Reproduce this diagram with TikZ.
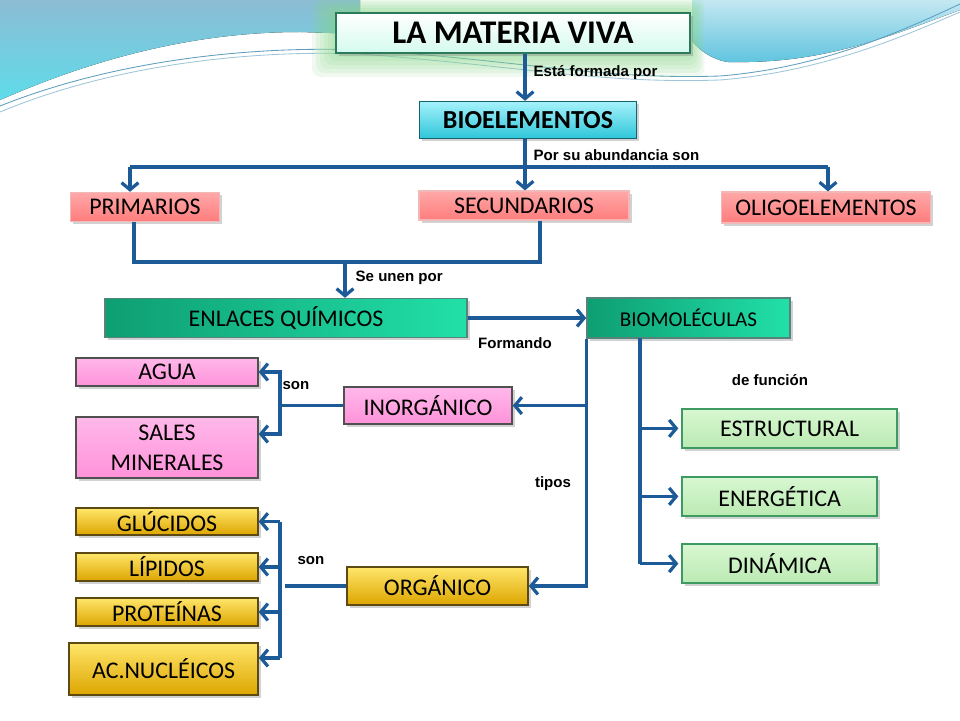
\documentclass[tikz,border=0pt]{standalone}
\usepackage{fontspec}
\setmainfont{Carlito}
\newfontfamily\labelfont{Liberation Sans}
\usetikzlibrary{arrows.meta,shadows}

\definecolor{linkblue}{HTML}{1C5A98}
\definecolor{skytop}{HTML}{8CBCD4}
\definecolor{skybot}{HTML}{5EDCEA}
\definecolor{skyrtop}{HTML}{C4E8F2}
\definecolor{skyrbot}{HTML}{5DC3DE}
\definecolor{swirl}{HTML}{5E9EBE}
\definecolor{glow}{HTML}{86D886}
\definecolor{titleedge}{HTML}{2C7A5C}
\definecolor{titlefill}{HTML}{D4FAEE}
\definecolor{cyanedge}{HTML}{17606E}
\definecolor{cyantop}{HTML}{A4F2FA}
\definecolor{cyanbot}{HTML}{2FC6DA}
\definecolor{redtop}{HTML}{FFA8A8}
\definecolor{redbot}{HTML}{FF7C7C}
\definecolor{rededge}{HTML}{F2B8B8}
\definecolor{tealleft}{HTML}{0E9E72}
\definecolor{tealright}{HTML}{22E0A8}
\definecolor{tealedge}{HTML}{55857A}
\definecolor{pinktop}{HTML}{FFB8EA}
\definecolor{pinkbot}{HTML}{FF92DA}
\definecolor{pinkedge}{HTML}{505050}
\definecolor{goldtop}{HTML}{FFE66A}
\definecolor{goldbot}{HTML}{DDA500}
\definecolor{goldedge}{HTML}{5C4A12}
\definecolor{greentop}{HTML}{D8F7D1}
\definecolor{greenbot}{HTML}{BBEAB3}
\definecolor{greenedge}{HTML}{3C9A62}

\tikzset{
  box/.style={inner sep=0pt, font=\fontsize{17}{19}\selectfont,
    drop shadow={shadow xshift=2pt, shadow yshift=-2pt, opacity=0.35}},
  titlebox/.style={box, draw=titleedge, line width=1.4pt, top color=white,
    bottom color=titlefill, font=\bfseries\fontsize{23.5}{25}\selectfont},
  cyanbox/.style={box, draw=cyanedge, line width=1pt, top color=cyantop,
    bottom color=cyanbot, font=\bfseries\fontsize{18.5}{20}\selectfont},
  redbox/.style={box, draw=rededge, line width=1pt, top color=redtop, bottom color=redbot},
  tealbox/.style={box, draw=tealedge, line width=1pt, left color=tealleft, right color=tealright},
  pinkbox/.style={box, draw=pinkedge, line width=1pt, top color=pinktop, bottom color=pinkbot},
  goldbox/.style={box, draw=goldedge, line width=1pt, top color=goldtop, bottom color=goldbot},
  greenbox/.style={box, draw=greenedge, line width=1.4pt, top color=greentop, bottom color=greenbot},
  link/.style={linkblue, line width=2.3pt},
  arr/.style={link, -{Straight Barb[length=5pt, width=12pt]}},
  lbl/.style={font=\labelfont\bfseries\fontsize{10.7}{12}\selectfont, inner sep=1pt},
}

\begin{document}
\begin{tikzpicture}
  \useasboundingbox (0,0) rectangle (24,18);
  \fill [white] (0,0) rectangle (24,18);

  \fill [top color=skytop, bottom color=skybot] (0,18) -- (9,18) -- (9,17.15) -- (7.5,17.2)
    .. controls (5,17.2) and (2.5,16.6) .. (0,15.5) -- cycle;
  \fill [top color=skyrtop, bottom color=skyrbot] (17.3,18) -- (24,18) -- (24,17.75)
    .. controls (22,17.0) and (20.5,16.4) .. (18.2,16.45)
    .. controls (17.8,16.5) and (17.4,16.8) .. (17.3,17.0) -- cycle;
  \draw [swirl, line width=0.6pt] (0,15.35) .. controls (3,16.55) and (6.5,16.85) .. (9,16.75)
    .. controls (13,16.5) and (15,16.0) .. (18,16.1) .. controls (20.5,16.3) and (22.5,17.2) .. (24,17.9);
  \draw [swirl!60, line width=0.6pt] (0,15.2) .. controls (3,16.45) and (6.5,16.75) .. (9,16.65)
    .. controls (13,16.35) and (15,15.9) .. (18,16.0) .. controls (20.5,16.2) and (22.5,17.05) .. (24,17.7);
  \foreach \g in {0.1,0.2,...,0.6}
    \fill [glow, opacity=0.13, rounded corners=6pt] (8.4-\g,16.675-\g) rectangle (17.25+\g*0.6,17.675+\g*0.6);

  \node [titlebox, minimum width=8.85cm, minimum height=1cm] (title) at (12.825,17.175) {LA MATERIA VIVA};
  \node [cyanbox, minimum width=5.425cm, minimum height=0.925cm] (bio) at (13.2,15.0) {BIOELEMENTOS};

  \node [redbox, minimum width=3.725cm, minimum height=0.725cm] (prim) at (3.625,12.825) {PRIMARIOS};
  \node [redbox, minimum width=5.25cm, minimum height=0.725cm] (secu) at (13.1,12.86) {SECUNDARIOS};
  \node [redbox, minimum width=5.225cm, minimum height=0.775cm] (oligo) at (20.65,12.81) {OLIGOELEMENTOS};

  \node [tealbox, minimum width=9.05cm, minimum height=0.975cm] (enlaces) at (7.15,10.05) {ENLACES QUÍMICOS};
  \node [tealbox, minimum width=5.075cm, minimum height=1cm, font=\fontsize{15}{17}\selectfont] (biomol) at (17.21,10.05) {BIOMOLÉCULAS};

  \node [pinkbox, minimum width=4.55cm, minimum height=0.7cm] (agua) at (4.175,8.7) {AGUA};
  \node [pinkbox, minimum width=4.55cm, minimum height=1.525cm, align=center,
    font=\fontsize{17}{21}\selectfont] (sales) at (4.175,6.81) {SALES\\MINERALES};
  \node [pinkbox, minimum width=4.2cm, minimum height=0.925cm] (inorg) at (10.7,7.86) {INORGÁNICO};

  \node [greenbox, minimum width=5.375cm, minimum height=0.975cm] (estr) at (19.74,7.29) {ESTRUCTURAL};
  \node [greenbox, minimum width=4.875cm, minimum height=0.975cm] (energ) at (19.49,5.59) {ENERGÉTICA};
  \node [greenbox, minimum width=4.875cm, minimum height=0.975cm] (dinam) at (19.49,3.91) {DINÁMICA};

  \node [goldbox, minimum width=4.55cm, minimum height=0.675cm] (glu) at (4.175,4.96) {GLÚCIDOS};
  \node [goldbox, minimum width=4.55cm, minimum height=0.7cm] (lip) at (4.175,3.825) {LÍPIDOS};
  \node [goldbox, minimum width=4.55cm, minimum height=0.7cm] (prot) at (4.175,2.7) {PROTEÍNAS};
  \node [goldbox, minimum width=4.725cm, minimum height=1.3cm] (acn) at (4.09,1.275) {AC.NUCLÉICOS};
  \node [goldbox, minimum width=4.525cm, minimum height=0.95cm] (org) at (10.94,3.35) {ORGÁNICO};

  \coordinate (split) at (13.125,13.825);
  \coordinate (pl) at (3.25,13.825);
  \coordinate (ol) at (20.7,13.825);
  \coordinate (pj) at (3.35,11.45);
  \coordinate (sj) at (13.5,11.45);
  \coordinate (jn) at (8.625,11.45);
  \coordinate (fn) at (16,9.55);
  \coordinate (ib) at (7.0,7.86);
  \coordinate (salesin) at ([yshift=0.34cm]sales.east);
  \coordinate (ov) at (7.0,3.35);
  \coordinate (acnin) at ([yshift=0.275cm]acn.east);

  \draw [arr] (title.south -| split) -- (split |- bio.north);
  \draw [link] (split |- bio.south) -- (split);
  \draw [link] (pl) -- (ol);
  \draw [arr] (pl) -- (pl |- prim.north);
  \draw [arr] (split) -- (split |- secu.north);
  \draw [arr] (ol) -- (ol |- oligo.north);

  \draw [link] (pj |- prim.south) -- (pj) -- (sj) -- (sj |- secu.south);
  \draw [arr] (jn) -- (jn |- enlaces.north);
  \draw [arr] (enlaces.east) -- (biomol.west);

  \draw [arr] (biomol.south west) |- (org.east);
  \draw [arr] (biomol.south west |- inorg.east) -- (inorg.east);

  \draw [link] (fn) -- (fn |- dinam.west);
  \foreach \n in {estr,energ,dinam}
    \draw [arr, shorten >=2pt] (fn |- \n.west) -- (\n.west);

  \draw [link] (inorg.west) -- (ib);
  \draw [arr] (ib) |- (agua.east);
  \draw [arr] (ib) |- (salesin);

  \draw [link] (org.west) -- ++(-1.525,0);
  \draw [link] (ov |- glu.east) -- (ov |- acnin);
  \foreach \n in {glu,lip,prot,acnin}
    \draw [arr] (ov |- \n) -- (\n);

  \node [lbl, anchor=west] (lformada) at (13.3,16.175) {Está formada por};
  \node [lbl, anchor=west] (labund) at (13.3,14.125) {Por su abundancia son};
  \node [lbl, anchor=west] (lunen) at (8.85,11.05) {Se unen por};
  \node [lbl] (lformando) at (12.875,9.425) {Formando};
  \node [lbl] (lsonin) at (7.4,8.35) {son};
  \node [lbl] (ltipos) at (13.825,5.9) {tipos};
  \node [lbl] (lfuncion) at (19.25,8.5) {de función};
  \node [lbl] (lsonorg) at (7.775,3.975) {son};
\end{tikzpicture}
\end{document}
